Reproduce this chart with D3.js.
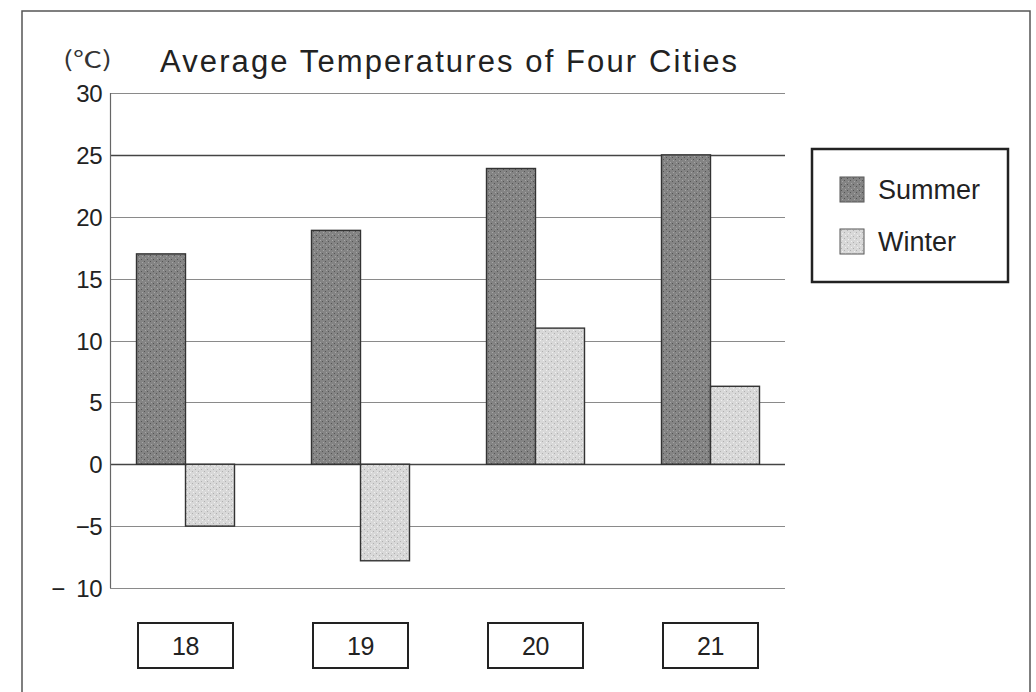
<!DOCTYPE html>
<html>
<head>
<meta charset="utf-8">
<script src="https://cdn.jsdelivr.net/npm/d3@7"></script>
<style>
  html, body { margin: 0; padding: 0; background: #fff; }
  svg { display: block; font-family: "Liberation Sans", Arial, sans-serif; }
</style>
</head>
<body>
<svg id="chart" width="1036" height="692"></svg>
<script>
const cities = ["18", "19", "20", "21"];
const seasons = ["Summer", "Winter"];
const summer = [17, 18.9, 23.9, 25];
const winter = [-5, -7.8, 11, 6.3];
const yTicks = [30, 25, 20, 15, 10, 5, 0, -5, -10];

const svg = d3.select("#chart");
const plot = { left: 110, right: 785, top: 93, bottom: 588 };

const y = d3.scaleLinear().domain([-10, 30]).range([plot.bottom, plot.top]);
const x = d3.scaleBand().domain(cities).range([98, 798]);
const sub = d3.scaleBand().domain(seasons).range([x.bandwidth() / 2 - 49, x.bandwidth() / 2 + 49]);

const fills = { Summer: "#848484", Winter: "#d8d8d8" };

// stipple textures
const defs = svg.append("defs");
function stipple(id, base, dot, light) {
  const p = defs.append("pattern").attr("id", id)
    .attr("width", 6).attr("height", 6).attr("patternUnits", "userSpaceOnUse");
  p.append("rect").attr("width", 6).attr("height", 6).attr("fill", base);
  p.append("rect").attr("x", 1).attr("y", 1).attr("width", 1).attr("height", 1).attr("fill", dot);
  p.append("rect").attr("x", 4).attr("y", 3).attr("width", 1).attr("height", 1).attr("fill", dot);
  p.append("rect").attr("x", 2).attr("y", 4).attr("width", 1).attr("height", 1).attr("fill", light);
  p.append("rect").attr("x", 5).attr("y", 0).attr("width", 1).attr("height", 1).attr("fill", light);
}
stipple("pat-Summer", fills.Summer, "#555", "#a5a5a5");
stipple("pat-Winter", fills.Winter, "#b0b0b0", "#f0f0f0");

// outer frame
svg.append("rect")
  .attr("x", 22).attr("y", 11).attr("width", 1008).attr("height", 700)
  .attr("fill", "none").attr("stroke", "#555").attr("stroke-width", 1.5);

// gridlines
svg.append("g").selectAll("line").data(yTicks).join("line")
  .attr("x1", plot.left).attr("x2", plot.right)
  .attr("y1", d => Math.round(y(d)) + 0.5).attr("y2", d => Math.round(y(d)) + 0.5)
  .attr("stroke", d => (d === 25 || d === 0) ? "#444" : "#8a8a8a")
  .attr("stroke-width", d => (d === 25 || d === 0) ? 1.6 : 1.2);

// y axis line
svg.append("line")
  .attr("x1", plot.left + 0.5).attr("x2", plot.left + 0.5)
  .attr("y1", plot.top).attr("y2", plot.bottom)
  .attr("stroke", "#666").attr("stroke-width", 1.2);

// tick labels (two-digit negatives get a gap after the minus, as in the original)
svg.append("g").selectAll("text").data(yTicks).join("text")
  .attr("x", 102).attr("y", d => y(d) + 9)
  .attr("text-anchor", "end")
  .attr("font-size", 24).attr("letter-spacing", -0.5).attr("fill", "#222")
  .text(d => d >= 0 ? d : "\u2212" + (d <= -10 ? "\u2002" : "") + Math.abs(d));

// unit and title
svg.append("text").attr("x", 63).attr("y", 67)
  .attr("font-size", 22).attr("fill", "#333")
  .attr("font-family", "'Noto Sans CJK JP', 'DejaVu Sans', sans-serif")
  .attr("textLength", 49).attr("lengthAdjust", "spacingAndGlyphs")
  .text("(\u2103)");
svg.append("text").attr("x", 160).attr("y", 72)
  .attr("font-size", 31).attr("fill", "#222")
  .attr("textLength", 577).attr("lengthAdjust", "spacing")
  .text("Average Temperatures of Four Cities");

// bars
const rows = cities.map((c, i) => ({ city: c, values: [
  { season: "Summer", v: summer[i] },
  { season: "Winter", v: winter[i] }
] }));

const groups = svg.append("g").selectAll("g").data(rows).join("g")
  .attr("transform", d => `translate(${x(d.city)},0)`);

groups.selectAll("rect").data(d => d.values).join("rect")
  .attr("x", d => sub(d.season))
  .attr("width", sub.bandwidth())
  .attr("y", d => y(Math.max(0, d.v)))
  .attr("height", d => Math.abs(y(d.v) - y(0)))
  .attr("fill", d => `url(#pat-${d.season})`)
  .attr("stroke", "#333").attr("stroke-width", 1.4);

// category label boxes
const labels = svg.append("g").selectAll("g").data(cities).join("g")
  .attr("transform", d => `translate(${x(d) + x.bandwidth() / 2},645)`);
labels.append("rect")
  .attr("x", -47.5).attr("y", -22).attr("width", 95).attr("height", 45)
  .attr("fill", "#fff").attr("stroke", "#222").attr("stroke-width", 2);
labels.append("text")
  .attr("text-anchor", "middle").attr("y", 10)
  .attr("font-size", 25).attr("letter-spacing", -0.5).attr("fill", "#222")
  .text(d => d);

// legend
const legend = svg.append("g").attr("transform", "translate(812,149)");
legend.append("rect")
  .attr("width", 196).attr("height", 133)
  .attr("fill", "#fff").attr("stroke", "#222").attr("stroke-width", 2.5);
const items = legend.selectAll("g").data(seasons).join("g")
  .attr("transform", (d, i) => `translate(28,${28 + i * 52})`);
items.append("rect")
  .attr("width", 24).attr("height", 25)
  .attr("fill", d => `url(#pat-${d})`)
  .attr("stroke", "#555").attr("stroke-width", 1);
items.append("text")
  .attr("x", 38).attr("y", 22)
  .attr("font-size", 27).attr("fill", "#222")
  .text(d => d);
</script>
</body>
</html>
